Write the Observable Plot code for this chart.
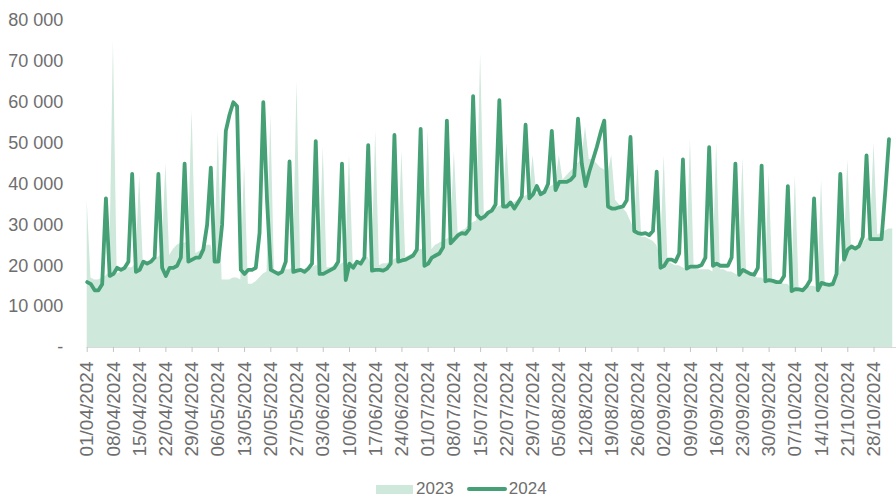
<!DOCTYPE html>
<html>
<head>
<meta charset="utf-8">
<script src="https://cdn.jsdelivr.net/npm/d3@7"></script>
<script src="https://cdn.jsdelivr.net/npm/@observablehq/plot@0.6"></script>
<style>
  html, body { margin: 0; padding: 0; background: #fff; }
  #wrap { position: relative; width: 896px; height: 497px; overflow: hidden; font-family: "Liberation Sans", Arial, sans-serif; }
  #legend { position: absolute; top: 481px; left: 376px; height: 16px; display: flex; align-items: center; font-size: 17px; line-height: 16px; color: #6e6e6e; }
  .sw-area { width: 37px; height: 9px; background: #cfe8dc; margin-right: 3px; }
  .sw-line { width: 40px; height: 4px; background: #45a175; border-radius: 2px; margin-left: 13px; margin-right: 2px; }
</style>
</head>
<body>
<div id="wrap"><div id="chart"></div>
<div id="legend"><span class="sw-area"></span><span>2023</span><span class="sw-line"></span><span>2024</span></div>
</div>
<script>
// ---- Data (values in thousands) ----
const startDate = "2024-04-01";
const endDate = "2024-11-03";

const series2023 = [
  36, 17, 16.5, 16.5, 17, 17.5, 18.5,
  75, 18, 18.5, 19, 19.5, 19.5, 20.5,
  42, 20, 20.5, 21, 21.5, 22, 23,
  45, 22.5, 24, 25, 25.5, 25.5, 26,
  58, 23, 23.5, 24, 25, 25, 22,
  53, 16.5, 16.5, 16.5, 17, 17, 16.5,
  45, 15.5, 15.5, 16, 17, 18, 18.5,
  57, 18, 18.5, 18.5, 19, 19, 19.5,
  65, 19, 19, 19.5, 19.5, 20, 20,
  49, 19.5, 19.5, 20, 20, 20.5, 21,
  47, 20.5, 21, 21, 21.5, 22, 20,
  53, 20, 20.5, 20.5, 21, 21.5, 22,
  48, 22, 22.5, 23, 23.5, 24, 24,
  53, 24, 25, 25.5, 26, 26.5, 27,
  48, 28, 28.5, 29, 30, 30.5, 31,
  72, 32, 33, 33.5, 34, 34.5, 35,
  50, 35, 35.5, 36, 36.5, 37, 37.5,
  47, 37.5, 38, 38.5, 39, 39.5, 40,
  47, 41, 42, 43, 44, 45, 46,
  54, 46, 46, 45, 44, 43.5, 42.5,
  47, 36, 35, 34, 33, 31, 29,
  45, 27, 27, 26.5, 26, 25, 22,
  47, 21, 20.5, 20, 20, 19.5, 19,
  51, 19.5, 19, 19, 19, 19, 18.5,
  50, 19, 19, 18.5, 18.5, 18, 17.5,
  46.5, 18, 17.5, 17.5, 17, 17, 16.5,
  42.5, 16, 16, 16, 15.5, 15.5, 14.5,
  42, 14.5, 14.5, 14.5, 15, 15, 14.5,
  41, 15, 15.5, 16, 18, 20, 21.5,
  46, 24, 24.5, 25, 25.5, 26.5, 27,
  50, 27.5, 28, 28.5, 29, 29
];

const series2024 = [
  16, 15.5, 14, 14, 15.5, 36.5, 17.5,
  18, 19.5, 19, 19.5, 21, 42.5, 18.5,
  19, 21, 20.5, 21, 22, 42.5, 19.5,
  17.5, 19.5, 19.5, 20, 22, 45, 21,
  21.5, 22, 22, 24, 30, 44, 21,
  21, 30, 53, 57, 60, 59, 19,
  18, 19, 19, 19.5, 28, 60, 36,
  19, 18.5, 18, 18.5, 21, 45.5, 18.5,
  18.8, 19, 18.5, 19.3, 20.5, 50.5, 18,
  18, 18.5, 19, 19.5, 21, 45, 16.5,
  20.5, 19.5, 21, 20.5, 22, 49.5, 18.8,
  19, 19, 18.8, 19.3, 20.5, 52, 21,
  21.3, 21.5, 22, 22.5, 24, 53.5, 20,
  20.5, 22, 22.5, 23, 24.5, 55.5, 25.5,
  26.5, 27.5, 28, 27.8, 29, 61.5, 32.5,
  31.5, 32, 33, 33.5, 35, 60.5, 34.5,
  34.5, 35.5, 34, 35.5, 37, 54.5, 36.5,
  37.5, 39.5, 37.5, 38, 40, 53, 38.5,
  40.5, 40.5, 40.5, 41, 42, 56, 45,
  39.5, 43, 46, 49, 52.5, 55.5, 34.5,
  34, 34, 34.3, 34.5, 36, 51.5, 28.5,
  28, 27.8, 28, 27.5, 28.5, 43, 19.5,
  20, 21.5, 21.5, 21, 23, 46, 19.3,
  19.8, 19.8, 19.8, 20.2, 22, 49, 20,
  20.5, 20, 20, 20, 22, 45, 17.8,
  19, 18.5, 18, 17.8, 19.5, 44.5, 16.2,
  16.5, 16.3, 16, 16, 17.5, 39.5, 13.8,
  14.3, 14.2, 14, 15, 16.5, 36.5, 14,
  15.8, 15.5, 15.3, 15.5, 18, 42.5, 21.5,
  24, 24.7, 24.2, 24.8, 27, 47, 26.5,
  26.5, 26.5, 26.5, 38, 51
];

const tickLabels = [
  "01/04/2024","08/04/2024","15/04/2024","22/04/2024","29/04/2024",
  "06/05/2024","13/05/2024","20/05/2024","27/05/2024","03/06/2024",
  "10/06/2024","17/06/2024","24/06/2024","01/07/2024","08/07/2024",
  "15/07/2024","22/07/2024","29/07/2024","05/08/2024","12/08/2024",
  "19/08/2024","26/08/2024","02/09/2024","09/09/2024","16/09/2024",
  "23/09/2024","30/09/2024","07/10/2024","14/10/2024","21/10/2024",
  "28/10/2024"
];

const yTicks = [0, 10000, 20000, 30000, 40000, 50000, 60000, 70000, 80000];

// ---- Build tables ----
const start = new Date(startDate + "T00:00:00Z");
const end = new Date(endDate + "T00:00:00Z");
const rows2023 = series2023.map((v, i) => ({ date: d3.utcDay.offset(start, i), value: v * 1000 }));
const rows2024 = series2024.map((v, i) => ({ date: d3.utcDay.offset(start, i), value: v * 1000 }));
const parse = d3.utcParse("%d/%m/%Y");
const tickDates = tickLabels.map(parse);
const fmtDate = d3.utcFormat("%d/%m/%Y");
const fmtY = d => d === 0 ? "-" : d3.format(",")(d).replace(/,/g, " ");

const chart = Plot.plot({
  width: 896,
  height: 470,
  marginLeft: 86.7,
  marginRight: 0,
  marginTop: 20,
  marginBottom: 123,
  style: { fontFamily: "'Liberation Sans', Arial, sans-serif", background: "white", overflow: "hidden" },
  x: { type: "utc", domain: [start, end], label: null },
  y: { domain: [0, 80000], label: null },
  marks: [
    Plot.areaY(rows2023, { x: "date", y: "value", fill: "#cfe8dc" }),
    Plot.ruleY([0], { stroke: "#d9d9d9", strokeWidth: 1 }),
    Plot.lineY(rows2024, { x: "date", y: "value", stroke: "#45a175", strokeWidth: 3.8, strokeLinejoin: "round", strokeLinecap: "round" }),
    Plot.axisY({ ticks: yTicks, tickSize: 0, tickPadding: 24, tickFormat: fmtY, fontSize: 18, fill: "#6e6e6e", label: null }),
    Plot.axisX({ ticks: tickDates, tickFormat: fmtDate, tickRotate: -90, tickSize: 5, tickPadding: 9, fontSize: 19, fill: "#6e6e6e", stroke: "#c4c4c4", label: null })
  ]
});
document.getElementById("chart").appendChild(chart);
</script>
</body>
</html>
